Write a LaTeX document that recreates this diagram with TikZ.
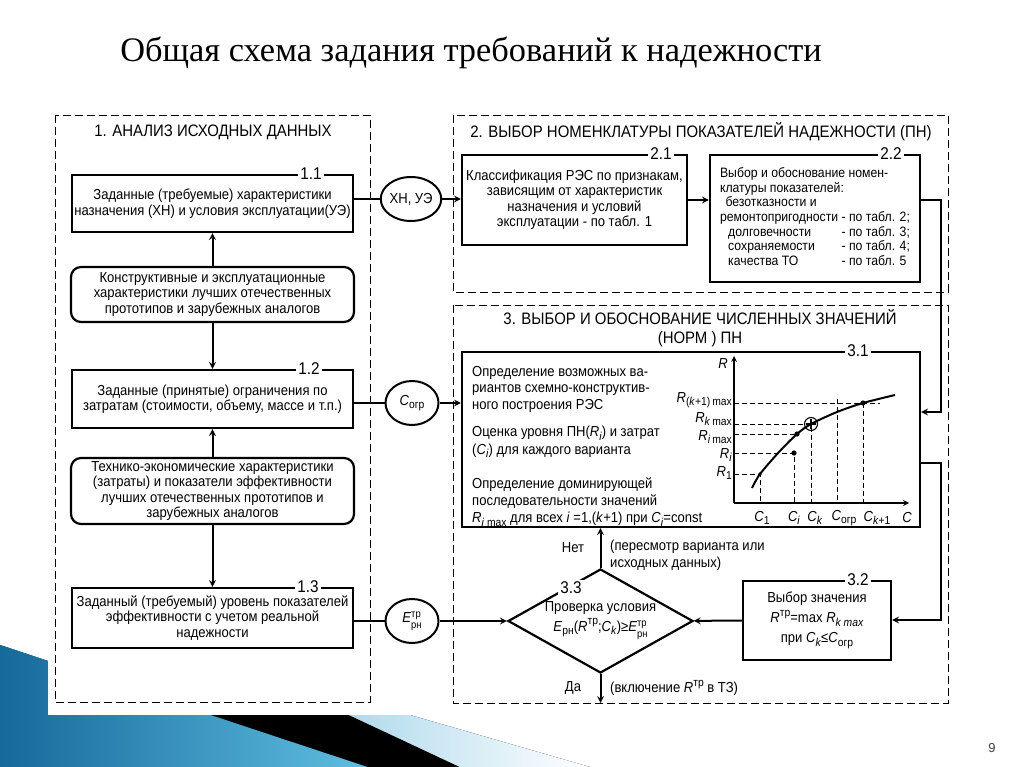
\documentclass[tikz,border=0pt]{standalone}
\usepackage{fontspec}
\setmainfont{Liberation Serif}
\newfontfamily\dfont[FakeStretch=0.9]{Liberation Sans}
\newfontfamily\pgfont{Liberation Sans}
\usetikzlibrary{arrows,positioning,shapes.geometric}

\definecolor{slideD}{RGB}{22,105,155}
\definecolor{slideL}{RGB}{95,190,225}
\definecolor{slideC}{RGB}{175,218,236}

\newcommand{\lsub}[1]{\raisebox{-0.45ex}{\fontsize{11.5}{12}\selectfont #1}}
\newcommand{\usup}[1]{\raisebox{0.85ex}{\fontsize{11.5}{12}\selectfont #1}}
\newcommand{\supsub}[2]{\raisebox{-0.2ex}{\fontsize{10.5}{11}\selectfont\begin{tabular}{@{}l@{}}#1\\#2\end{tabular}}}

\begin{document}
\begin{tikzpicture}[
  x=1pt, y=-1pt, >=stealth,
  every node/.style={font=\dfont\fontsize{14.5}{15.5}\selectfont, inner sep=1pt},
  box/.style={draw, line width=2.2pt, align=center, minimum width=281pt},
  rbox/.style={box, rounded corners=10pt, minimum width=283pt},
  circ/.style={ellipse, draw, line width=2pt, minimum width=53pt, minimum height=44pt, inner sep=0pt},
  numlbl/.style={fill=white, font=\dfont\fontsize{17}{17}\selectfont, inner sep=2pt},
  region/.style={draw, dash pattern=on 8pt off 4pt, line width=0.9pt},
  rtitle/.style={font=\dfont\fontsize{16.6}{19.5}\selectfont, align=center},
  link/.style={line width=2pt},
  guide/.style={dash pattern=on 5pt off 3pt, line width=0.9pt},
  axis/.style={line width=1.6pt}
]
\useasboundingbox (0,0) rectangle (1024,767);

% slide decoration
\fill[left color=slideD, right color=slideL] (0,645) -- (368,767) -- (0,767) -- cycle;
\fill[black] (211,715) -- (349,715) -- (460,767) -- (368,767) -- cycle;
\fill[left color=slideC, right color=white] (349,715) -- (410,715) -- (590,767) -- (460,767) -- cycle;
\fill[white] (48,95) rectangle (962,715);

\node[font=\fontsize{34.4}{36}\selectfont] (title) at (471,53) {Общая схема задания требований к надежности};
\node[font=\pgfont\fontsize{13}{13}\selectfont, text=darkgray] (page) at (992,748) {9};

% regions
\draw[region] (55,115) rectangle (370,702);
\draw[region] (453,115) rectangle (948,292);
\draw[region] (453,305) rectangle (948,703);
\node[rtitle] (t1) at (213,132) {1. АНАЛИЗ ИСХОДНЫХ ДАННЫХ};
\node[rtitle] (t2) at (701,132) {2. ВЫБОР НОМЕНКЛАТУРЫ ПОКАЗАТЕЛЕЙ НАДЕЖНОСТИ (ПН)};
\node[rtitle] (t3) at (700,328) {3. ВЫБОР И ОБОСНОВАНИЕ ЧИСЛЕННЫХ ЗНАЧЕНИЙ\\(НОРМ ) ПН};

% 1. source data
\node[box, minimum height=57pt] (b11) at (212.5,203.5) {Заданные (требуемые) характеристики\\назначения (ХН) и условия эксплуатации(УЭ)};
\node[rbox, minimum height=55pt] (rA) at (212.5,294.5) {Конструктивные и эксплуатационные\\характеристики лучших отечественных\\прототипов и зарубежных аналогов};
\node[box, minimum height=58pt] (b12) at (212.5,399) {Заданные (принятые) ограничения по\\затратам (стоимости, объему, массе и т.п.)};
\node[rbox, minimum height=66pt] (rB) at (212.5,491) {Технико-экономические характеристики\\(затраты) и показатели эффективности\\лучших отечественных прототипов и\\зарубежных аналогов};
\node[box, minimum height=60pt] (b13) at (212.5,618) {Заданный (требуемый) уровень показателей\\эффективности с учетом реальной\\надежности};
\node[numlbl] (n11) at ([xshift=-43pt]b11.north east) {1.1};
\node[numlbl] (n12) at ([xshift=-45pt]b12.north east) {1.2};
\node[numlbl] (n13) at ([xshift=-46pt]b13.north east) {1.3};

\node[circ] (c1) at (411,199) {ХН, УЭ};
\node[circ] (c2) at (412,403) {\textit{C}\lsub{огр}};
\node[circ] (c3) at (412,621) {\textit{E}\supsub{тр}{рн}};

% 2. nomenclature
\node[box, minimum width=225pt, minimum height=90pt] (b21) at (574.5,200) {Классификация РЭС по признакам,\\зависящим от характеристик\\назначения и условий\\эксплуатации - по табл. 1};
\node[box, minimum width=210pt, minimum height=127pt, font=\dfont\fontsize{13.6}{14.7}\selectfont] (b22) at (815,218.5) {%
  \begin{tabular}{@{}l@{}l@{}}
  \multicolumn{2}{@{}l@{}}{Выбор и обоснование номен-}\\
  \multicolumn{2}{@{}l@{}}{клатуры показателей:}\\
  \multicolumn{2}{@{}l@{}}{\hspace*{0.4em}безотказности и}\\
  ремонтопригодности & \ - по табл. 2;\\
  \hspace*{0.6em}долговечности & \ - по табл. 3;\\
  \hspace*{0.6em}сохраняемости & \ - по табл. 4;\\
  \hspace*{0.6em}качества ТО & \ - по табл. 5
  \end{tabular}};
\node[numlbl] (n21) at ([xshift=-27pt]b21.north east) {2.1};
\node[numlbl] (n22) at ([xshift=-30pt]b22.north east) {2.2};

% 3. numerical values
\node[box, minimum width=458pt, minimum height=175pt] (b31) at (691,439.5) {};
\node[numlbl] (n31) at ([xshift=-63pt]b31.north east) {3.1};
\node[anchor=north west, align=left, font=\dfont\fontsize{14.5}{16.5}\selectfont] (t31a) at (471,365) {Определение возможных ва-\\риантов схемно-конструктив-\\ного построения РЭС};
\node[anchor=north west, align=left, font=\dfont\fontsize{14.5}{17.5}\selectfont] (t31b) at (471,425) {Оценка уровня ПН(\textit{R}\lsub{\textit{i}}) и затрат\\(\textit{C}\lsub{\textit{i}}) для каждого варианта};
\node[anchor=north west, align=left, font=\dfont\fontsize{14.5}{16.8}\selectfont] (t31c) at (471,477) {Определение доминирующей\\последовательности значений\\\textit{R}\lsub{\textit{i} max} для всех \textit{i} =1,(\textit{k}+1) при \textit{C}\lsub{\textit{i}}=const};

% chart R(C)
\coordinate (o) at (734,503);
\coordinate (rtop) at (734,356);
\coordinate (cend) at (909,503);
\coordinate (p1) at (760,474);
\coordinate (pi) at (794,453);
\coordinate (pim) at (797,434);
\coordinate (pk) at (811,424);
\coordinate (pk1) at (863,403);
\draw[guide] (o |- p1) -- (p1) -- (p1 |- o);
\draw[guide] (o |- pi) -- (pi) -- (pi |- o);
\draw[guide] (o |- pim) -- (pim);
\draw[guide] (o |- pk) -- (pk) -- (pk |- o);
\draw[guide] (o |- pk1) -- (880,403);
\draw[guide] (pk1) -- (pk1 |- o);
\draw[guide] (837,399) -- (837,503);
\draw[axis,->] (o) -- (rtop);
\draw[axis,->] (o) -- (cend);
\draw[line width=2pt] plot[smooth] coordinates {(752,488) (760,474) (779,452) (797,434) (811,424) (837,412) (863,403) (895,395)};
\fill (pi) circle (2.6);
\fill (pim) circle (2.6);
\fill (pk1) circle (2.6);
\fill (p1) circle (1.8);
\draw[line width=1.1pt] (pk) circle (6.5);
\draw[line width=1.1pt] ([xshift=-5pt]pk) -- ([xshift=5pt]pk) ([yshift=-5pt]pk) -- ([yshift=5pt]pk);
\node (lR) at (723,364) {\textit{R}};
\node (lC) at (907,518) {\textit{C}};
\node[anchor=east] (lr5) at (733,400) {\textit{R}\lsub{(\textit{k}+1)\,max}};
\node[anchor=east] (lr4) at (733,419) {\textit{R}\lsub{\textit{k}\,max}};
\node[anchor=east] (lr3) at (733,437) {\textit{R}\lsub{\textit{i}\,max}};
\node[anchor=east] (lr2) at (733,455) {\textit{R}\lsub{\textit{i}}};
\node[anchor=east] (lr1) at (733,473) {\textit{R}\lsub{1}};
\node (lc1) at (762,518) {\textit{C}\lsub{1}};
\node (lc2) at (794,518) {\textit{C}\lsub{\textit{i}}};
\node (lc3) at (815,518) {\textit{C}\lsub{\textit{k}}};
\node (lc4) at (844,518) {\textit{C}\lsub{огр}};
\node (lc5) at (877,518) {\textit{C}\lsub{\textit{k}+1}};

\node[diamond, draw, line width=2.2pt, minimum width=185pt, minimum height=104pt, aspect=1.78, inner sep=0pt, align=center, font=\dfont\fontsize{14.5}{20}\selectfont] (d33) at (600.5,621) {Проверка условия\\\textit{E}\lsub{рн}(\textit{R}\usup{тр};\textit{C}\lsub{\textit{k}})≥\textit{E}\supsub{тр}{рн}};
\node[numlbl] (n33) at (571,588) {3.3};
\node[box, minimum width=148pt, minimum height=79pt, font=\dfont\fontsize{14.5}{20}\selectfont] (b32) at (817,620.5) {Выбор значения\\\textit{R}\usup{тр}=max \textit{R}\lsub{\textit{k max}}\\при \textit{C}\lsub{\textit{k}}≤\textit{C}\lsub{огр}};
\node[numlbl] (n32) at ([xshift=-34pt]b32.north east) {3.2};
\node (net) at (573,548) {Нет};
\node[anchor=west, align=left, font=\dfont\fontsize{14.5}{17.5}\selectfont] (rev) at (609,555) {(пересмотр варианта или\\исходных данных)};
\node (da) at (573,688) {Да};
\node[anchor=west] (incl) at (609,688) {(включение \textit{R}\usup{тр} в ТЗ)};

% connectors
\coordinate (k1) at (941,412);
\coordinate (k2) at (941,463);
\coordinate (k3) at (941,620);
\coordinate (yes) at (600.5,703);
\draw[link,->] (rA) -- (b11);
\draw[link,->] (rA) -- (b12);
\draw[link,->] (rB) -- (b12);
\draw[link,->] (rB) -- (b13);
\draw[link] (b11.east |- c1) -- (c1);
\draw[link,->] (c1) -- (b21.west |- c1);
\draw[link] (b12.east |- c2) -- (c2);
\draw[link,->] (c2) -- (b31.west |- c2);
\draw[link] (b13.east |- c3) -- (c3);
\draw[link,->] (c3) -- (d33);
\draw[link,->] (b21.east) -- (b21.east -| b22.west);
\draw[link,->] (b22.east |- b21.east) -| (k1) -- (b31.east |- k1);
\draw[link,->] (b31.east |- k2) -- (k2) -- (k3) -- (b32.east |- k3);
\draw[link,->] (b32) -- (d33);
\draw[link,->] (d33.north) -- (d33.north |- b31.south);
\draw[link,->] (d33.south) -- (yes);
\end{tikzpicture}
\end{document}
